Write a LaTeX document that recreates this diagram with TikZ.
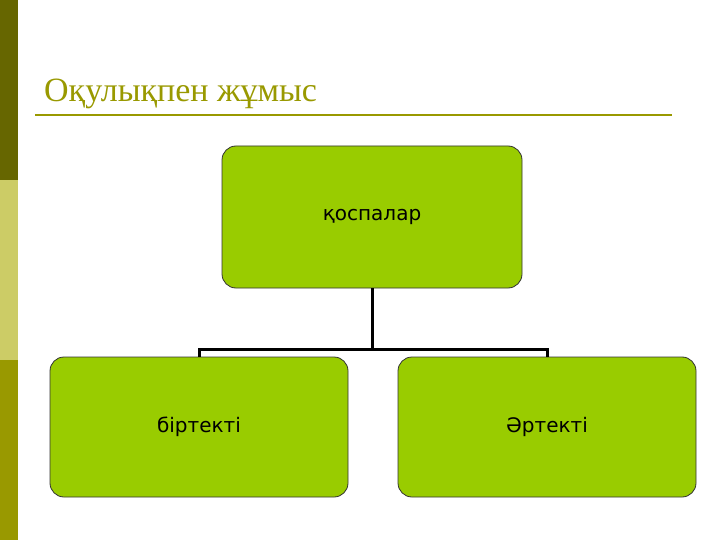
\documentclass[tikz,border=0pt]{standalone}
\usepackage{fontspec}
\setmainfont{Liberation Serif}
\newfontfamily\boxfont{DejaVu Sans}
\definecolor{olivetitle}{HTML}{999900}
\definecolor{bardark}{HTML}{666600}
\definecolor{barlight}{HTML}{CCCC66}
\definecolor{barmid}{HTML}{999900}
\definecolor{boxfill}{HTML}{99CC00}
\begin{document}
\begin{tikzpicture}[x=1pt,y=-1pt,
  boxstyle/.style={draw=black!80,line width=0.8pt,fill=boxfill,rounded corners=14pt,
    minimum width=298pt,minimum height=140pt,font=\boxfont\fontsize{20}{24}\selectfont},
  conn/.style={line width=3pt,black}]
\useasboundingbox (0,0) rectangle (720,540);
\fill[white] (0,0) rectangle (720,540);
\fill[bardark] (0,0) rectangle (18,180);
\fill[barlight] (0,180) rectangle (18,360);
\fill[barmid] (0,360) rectangle (18,540);
\node[anchor=base west,text=olivetitle,font=\fontsize{34}{40}\selectfont,inner sep=0] (title) at (44,102) {Оқулықпен жұмыс};
\draw[olivetitle,line width=2.5pt] (35,115) -- (672,115);
\node[boxstyle,minimum width=300pt,minimum height=142pt] (top) at (372,217) {қоспалар};
\node[boxstyle] (left) at (199,427) {біртекті};
\node[boxstyle] (right) at (547,427) {Әртекті};
\coordinate (mid) at (372,349);
\draw[conn] (top.south) -- (mid);
\draw[conn] (left.north) -- (left.north |- mid) -- (right.north |- mid) -- (right.north);
\end{tikzpicture}
\end{document}
